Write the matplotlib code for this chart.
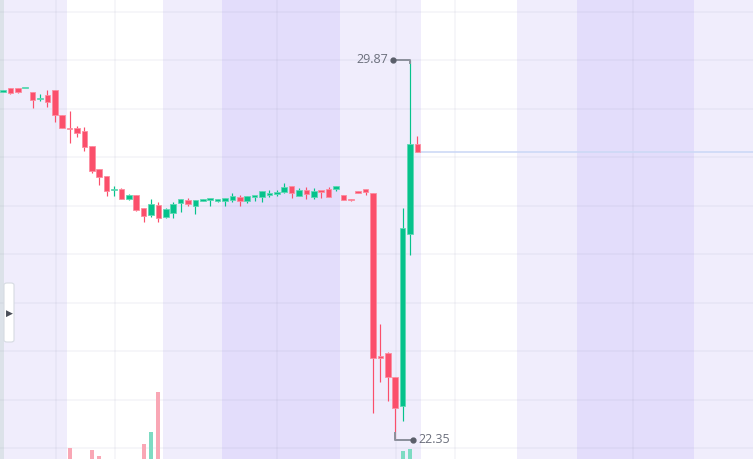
import matplotlib.pyplot as plt
import matplotlib.patches as patches
import numpy as np

# OHLC (one entry per candle)
opens = [29.24, 29.32, 29.32, 29.31, 29.24, 29.09, 29.18, 29.28, 28.78, 28.51,
         28.52, 28.46, 28.17, 27.71, 27.57, 27.29, 27.32, 27.12, 27.20, 26.94,
         26.80, 27.00, 26.76, 26.84, 27.04, 27.10, 26.98, 27.08, 27.10, 27.08,
         27.08, 27.10, 27.16, 27.08, 27.16, 27.16, 27.20, 27.22, 27.26, 27.38,
         27.18, 27.30, 27.16, 27.27, 27.32, 27.32, 27.20, 27.12, 27.28, 27.32,
         27.24, 24.01, 24.07, 23.60, 23.02, 26.43, 28.21]
highs = [29.28, 29.32, 29.32, 29.32, 29.24, 29.20, 29.28, 29.28, 28.78, 28.86,
         28.56, 28.54, 28.17, 27.71, 27.57, 27.38, 27.34, 27.22, 27.20, 26.94,
         27.12, 27.06, 26.94, 27.06, 27.12, 27.14, 27.10, 27.12, 27.12, 27.12,
         27.14, 27.24, 27.20, 27.18, 27.18, 27.28, 27.30, 27.30, 27.44, 27.38,
         27.34, 27.36, 27.34, 27.27, 27.36, 27.38, 27.20, 27.12, 27.28, 27.32,
         27.24, 24.65, 24.09, 23.60, 26.94, 29.87, 28.37]
lows = [29.24, 29.20, 29.22, 29.31, 28.92, 29.06, 28.94, 28.64, 28.52, 28.23,
        28.35, 28.07, 27.63, 27.40, 27.18, 27.18, 27.12, 27.10, 26.88, 26.66,
        26.76, 26.66, 26.74, 26.74, 26.86, 26.98, 26.82, 27.08, 26.98, 27.06,
        26.98, 27.06, 26.98, 27.04, 27.08, 27.06, 27.16, 27.18, 27.24, 27.14,
        27.18, 27.12, 27.12, 27.14, 27.16, 27.28, 27.10, 27.08, 27.24, 27.20,
        22.88, 23.50, 23.12, 22.35, 22.73, 26.01, 28.05]
closes = [29.28, 29.22, 29.24, 29.32, 29.08, 29.10, 29.04, 28.78, 28.52, 28.50,
          28.43, 28.15, 27.67, 27.55, 27.28, 27.30, 27.12, 27.20, 26.90, 26.78,
          27.02, 26.74, 26.92, 27.02, 27.12, 27.02, 27.10, 27.12, 27.12, 27.12,
          27.14, 27.18, 27.08, 27.18, 27.18, 27.28, 27.22, 27.26, 27.36, 27.24,
          27.30, 27.22, 27.28, 27.26, 27.16, 27.38, 27.10, 27.09, 27.24, 27.26,
          23.97, 23.97, 23.60, 22.98, 26.55, 28.21, 28.05]
volumes = [30, 28, 25, 18, 35, 22, 30, 45, 50, 71,
           40, 48, 69, 63, 55, 20, 38, 25, 52, 75,
           87, 127, 35, 40, 22, 18, 24, 15, 14, 12,
           16, 20, 18, 17, 12, 22, 15, 14, 25, 20,
           18, 16, 20, 12, 22, 18, 20, 12, 14, 16,
           58, 45, 50, 55, 68, 70, 30]

RED = '#fb4f6b'
GREEN = '#06c28c'
RED_VOL = '#f9a7b5'
GREEN_VOL = '#7ddbc2'

# axe x: index des bougies (7.4 px par bougie)
x_left, x_right = -0.405, 101.35
y_bottom, y_top = 21.974, 31.057

fig = plt.figure(figsize=(7.53, 4.59), dpi=100)
ax = fig.add_axes([0, 0, 1, 1])
ax.set_xlim(x_left, x_right)
ax.set_ylim(y_bottom, y_top)
ax.axis('off')

# bandes de fond
bandes = [(0.135, 8.65, '#f0edfc'), (21.6, 29.6, '#f0edfc'), (29.6, 45.5, '#e3ddfb'),
          (45.5, 56.5, '#f0edfc'), (69.5, 77.6, '#f0edfc'), (77.6, 93.4, '#e3ddfb'),
          (93.4, x_right, '#f0edfc')]
for a, b, c in bandes:
    ax.axvspan(a, b, color=c, lw=0, zorder=0)
ax.axvspan(x_left, 0.135, color='#dce2e9', lw=0, zorder=0)

# grille
for gx in [7.16, 15.1, 37.0, 53.1, 61.1, 85.1]:
    ax.axvline(gx, color='#9a9ab8', alpha=0.09, lw=1.3, zorder=1)
for gy in [30.82, 29.87, 28.90, 27.95, 26.98, 26.03, 25.06, 24.11, 23.14, 22.19]:
    ax.axhline(gy, color='#9a9ab8', alpha=0.09, lw=1.3, zorder=1)

idx = np.arange(len(opens))
o = np.array(opens)
c = np.array(closes)
up = c >= o
cols = [GREEN if u else RED for u in up]
edge = ['#5fd9b4' if u else '#fd8ea0' for u in up]

# volumes (axe secondaire, base sous le cadre)
ax2 = ax.twinx()
ax2.set_ylim(60, 60 + 459)
ax2.axis('off')
ax2.bar(idx, volumes, width=0.55, color=[GREEN_VOL if u else RED_VOL for u in up],
        lw=0, zorder=2)

# mèches + corps
ax3 = ax.twinx()
ax3.set_ylim(y_bottom, y_top)
ax3.axis('off')
ax3.vlines(idx, lows, highs, colors=cols, lw=0.85, zorder=3)
bottoms = np.minimum(o, c)
heights = np.maximum(np.abs(c - o), 0.03)
ax3.bar(idx, heights, bottom=bottoms, width=0.76, color=cols, edgecolor=edge,
        linewidth=0.6, zorder=4)

# ligne du dernier prix
ax3.hlines(closes[-1], idx[-1] + 0.4, x_right, color='#cdd9f6', lw=1.2, zorder=2)

# annotations haut / bas
i_hi = int(np.argmax(highs))
i_lo = int(np.argmin(lows))
hi, lo = highs[i_hi], lows[i_lo]
grey = '#8b8f9b'
ax3.plot([i_hi - 2.3, i_hi, i_hi], [hi, hi, hi - 0.05], color=grey, lw=1.4, zorder=5)
ax3.plot([i_hi - 2.3], [hi], 'o', color='#5a5e6a', ms=3.5, zorder=6)
ax3.text(i_hi - 3.0, hi, f'{hi:.2f}', ha='right', va='center', fontsize=9,
         color='#6b6f7c', family='Open Sans', zorder=6)
ax3.plot([i_lo, i_lo, i_lo + 2.45], [lo + 0.14, lo, lo], color=grey, lw=1.4, zorder=5)
ax3.plot([i_lo + 2.45], [lo], 'o', color='#5a5e6a', ms=3.5, zorder=6)
ax3.text(i_lo + 3.2, lo, f'{lo:.2f}', ha='left', va='center', fontsize=9,
         color='#6b6f7c', family='Open Sans', zorder=6)

# petit onglet à gauche
W, H = 753, 459
tab = patches.FancyBboxPatch((4 / W, (H - 342) / H), 10 / W, 59 / H,
                             boxstyle='round,pad=0,rounding_size=0.004',
                             transform=fig.transFigure, facecolor='white',
                             edgecolor='#d6dbe2', lw=0.8, zorder=10)
fig.patches.append(tab)
fig.text(9.5 / W, (H - 313) / H, '\u25B6', fontsize=6.5, color='#4a4f58',
         ha='center', va='center', family='DejaVu Sans', zorder=11)

plt.savefig('out.png', dpi=100, facecolor='white')
